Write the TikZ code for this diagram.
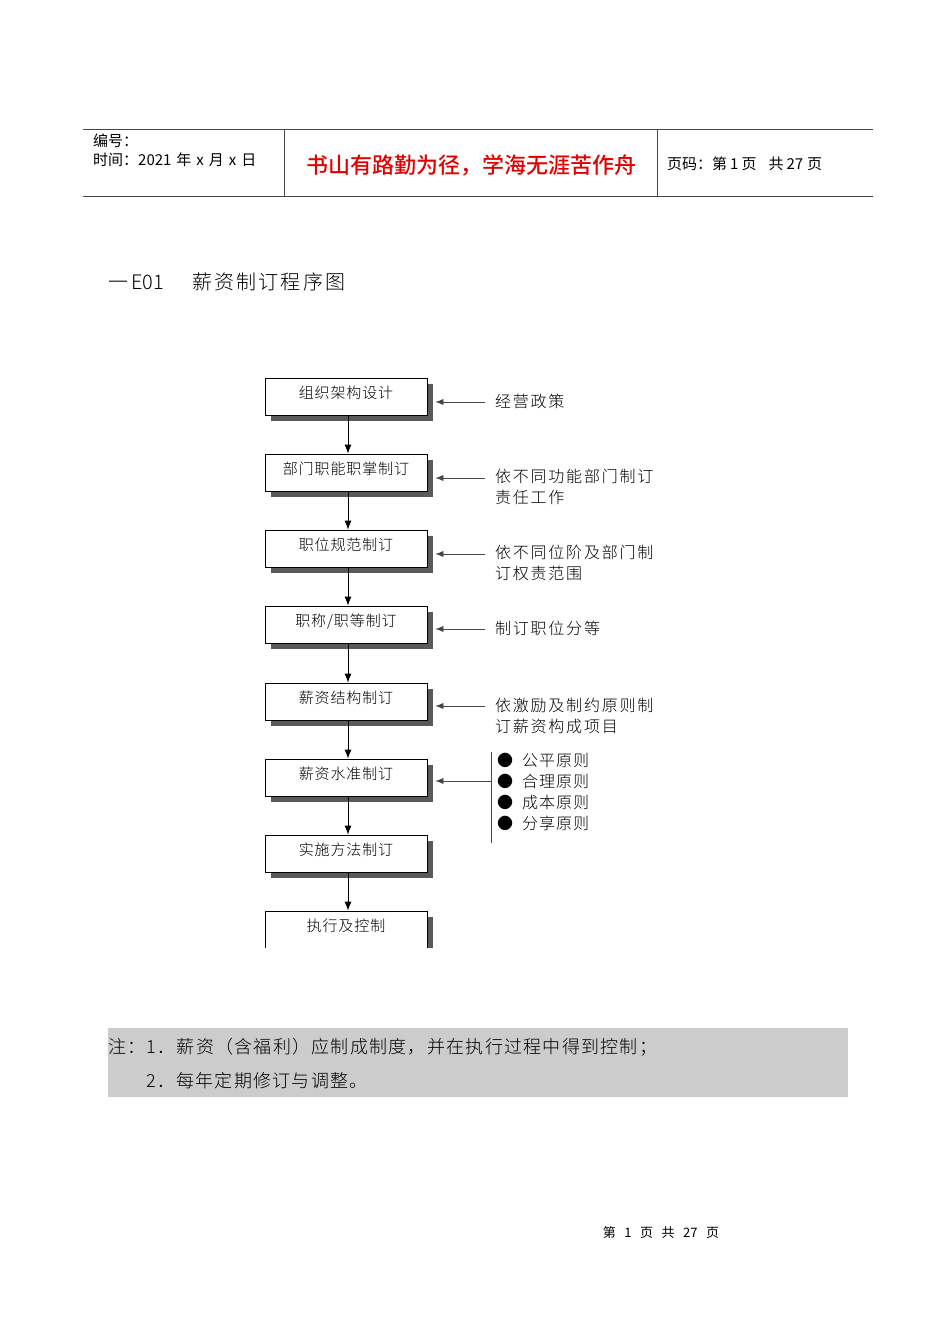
\documentclass[tikz,border=0pt]{standalone}
\usepackage{fontspec}
\usetikzlibrary{arrows.meta,shadows}
\newfontfamily\hei{Noto Sans CJK SC}
\newfontfamily\heim{Noto Sans CJK SC}[UprightFont=* Medium]
\newfontfamily\songplain{Noto Sans CJK SC}[UprightFont=* Light]
\newfontfamily\songbox{Noto Sans CJK SC}[UprightFont=* Light, LetterSpace=6]
\newfontfamily\songwide{Noto Sans CJK SC}[UprightFont=* Light, LetterSpace=11]
\newfontfamily\songnote{Noto Sans CJK SC}[UprightFont=* Light, LetterSpace=7]
\definecolor{rulegray}{RGB}{70,70,70}
\definecolor{shadowgray}{RGB}{90,90,90}
\definecolor{notegray}{RGB}{204,204,204}
\definecolor{mottored}{RGB}{228,0,0}
\tikzset{
  stepbox/.style={draw=black, line width=0.8pt, fill=white,
    minimum width=162pt, minimum height=37pt, inner sep=0pt,
    text height=10pt, text depth=6pt,
    font=\songbox\fontsize{15}{18}\selectfont,
    drop shadow={shadow xshift=6pt, shadow yshift=-6pt, opacity=1, fill=shadowgray}},
  flow/.style={line width=0.8pt, -{Latex[length=9pt,width=7pt]}},
  feed/.style={line width=0.5pt, draw=rulegray, -{Latex[length=8pt,width=6pt]}},
  sidelabel/.style={anchor=west, inner sep=0pt, align=left,
    font=\songwide\fontsize{16}{21}\selectfont},
  headtext/.style={anchor=west, inner sep=0pt, font=\hei\fontsize{15}{19}\selectfont},
  headrule/.style={draw=rulegray, line width=1pt}
}
\begin{document}
\begin{tikzpicture}[x=1pt,y=-1pt]
\useasboundingbox (0,0) rectangle (950,1344);

% ---------------- header ----------------
\coordinate (hTL) at (83,129);
\coordinate (hTR) at (873,129);
\coordinate (hBL) at (83,196);
\coordinate (hBR) at (873,196);
\coordinate (d1t) at (284,129);
\coordinate (d1b) at (284,196);
\coordinate (d2t) at (657,129);
\coordinate (d2b) at (657,196);
\draw[headrule] (hTL) -- (hTR);
\draw[headrule] (hBL) -- (hBR);
\draw[headrule] (d1t) -- (d1b);
\draw[headrule] (d2t) -- (d2b);
\node[headtext] (hnum) at (93,141) {编号：};
\node[headtext] (hdate) at (93,160) {时间：2021\hspace{5pt}年\hspace{5pt}x\hspace{5pt}月\hspace{5pt}x\hspace{5pt}日};
\node[anchor=center, inner sep=0pt, text=mottored, font=\heim\fontsize{22}{24}\selectfont] (motto) at (471,165) {书山有路勤为径，学海无涯苦作舟};
\node[headtext] (hpage) at (667,164) {页码：第\hspace{3pt}1\hspace{3pt}页\hspace{12pt}共\hspace{3pt}27\hspace{4pt}页};

% ---------------- title ----------------
\node[anchor=west, inner sep=0pt, font=\songplain\fontsize{20}{24}\selectfont] (title) at (108,282) {一\hspace{3pt}E01\hspace{28pt}{\songwide 薪资制订程序图}};

% ---------------- flow boxes ----------------
\node[stepbox] (b1) at (346,396.5) {组织架构设计};
\node[stepbox] (b2) at (346,472.5) {部门职能职掌制订};
\node[stepbox] (b3) at (346,548.5) {职位规范制订};
\node[stepbox] (b4) at (346,624.5) {职称/职等制订};
\node[stepbox] (b5) at (346,701.5) {薪资结构制订};
\node[stepbox] (b6) at (346,777.5) {薪资水准制订};
\node[stepbox] (b7) at (346,853.5) {实施方法制订};
\begin{scope}
  \clip (0,0) rectangle (950,947.5);
  \node[stepbox] (b8) at (346,929.5) {执行及控制};
\end{scope}

\draw[flow] ([xshift=2pt]b1.south) -- ([xshift=2pt]b2.north);
\draw[flow] ([xshift=2pt]b2.south) -- ([xshift=2pt]b3.north);
\draw[flow] ([xshift=2pt]b3.south) -- ([xshift=2pt]b4.north);
\draw[flow] ([xshift=2pt]b4.south) -- ([xshift=2pt]b5.north);
\draw[flow] ([xshift=2pt]b5.south) -- ([xshift=2pt]b6.north);
\draw[flow] ([xshift=2pt]b6.south) -- ([xshift=2pt]b7.north);
\draw[flow] ([xshift=2pt]b7.south) -- ([xshift=2pt]b8.north);

% ---------------- side inputs ----------------
\coordinate (f1) at (485,402);
\coordinate (f2) at (485,478);
\coordinate (f3) at (485,554);
\coordinate (f4) at (485,629);
\coordinate (f5) at (485,706);
\coordinate (f6) at (491,781);
\draw[feed] (f1) -- ([xshift=8pt]f1 -| b1.east);
\draw[feed] (f2) -- ([xshift=8pt]f2 -| b2.east);
\draw[feed] (f3) -- ([xshift=8pt]f3 -| b3.east);
\draw[feed] (f4) -- ([xshift=8pt]f4 -| b4.east);
\draw[feed] (f5) -- ([xshift=8pt]f5 -| b5.east);
\draw[feed] (f6) -- ([xshift=8pt]f6 -| b6.east);

\node[sidelabel] (l1) at (495,401) {经营政策};
\node[sidelabel] (l2) at (495,486.5) {依不同功能部门制订\\责任工作};
\node[sidelabel] (l3) at (495,562.5) {依不同位阶及部门制\\订权责范围};
\node[sidelabel] (l4) at (495,628) {制订职位分等};
\node[sidelabel] (l5) at (495,715.5) {依激励及制约原则制\\订薪资构成项目};

\coordinate (vt) at (491,752);
\coordinate (vb) at (491,843);
\draw[line width=0.6pt, draw=rulegray] (vt) -- (vb);
\node[anchor=west, inner sep=0pt, align=left, font=\songbox\fontsize{16}{21}\selectfont] (l6) at (497,791.5)
  {{\hei ●}\hspace{9pt}公平原则\\{\hei ●}\hspace{9pt}合理原则\\{\hei ●}\hspace{9pt}成本原则\\{\hei ●}\hspace{9pt}分享原则};

% ---------------- note ----------------
\node[fill=notegray, anchor=north west, minimum width=740pt, minimum height=69pt, inner sep=0pt] (notebg) at (108,1028) {};
\node[anchor=west, inner sep=0pt, font=\songnote\fontsize{18}{22}\selectfont] (n1) at (108,1047) {注：1．薪资（含福利）应制成制度，并在执行过程中得到控制；};
\node[anchor=west, inner sep=0pt, font=\songnote\fontsize{18}{22}\selectfont] (n2) at (146,1081) {2．每年定期修订与调整。};

% ---------------- footer ----------------
\node[inner sep=0pt, font=\hei\fontsize{13}{16}\selectfont] (foot) at (661,1233) {第\hspace{8.5pt}1\hspace{8.5pt}页\hspace{8.5pt}共\hspace{8.5pt}27\hspace{8.5pt}页};
\end{tikzpicture}
\end{document}
